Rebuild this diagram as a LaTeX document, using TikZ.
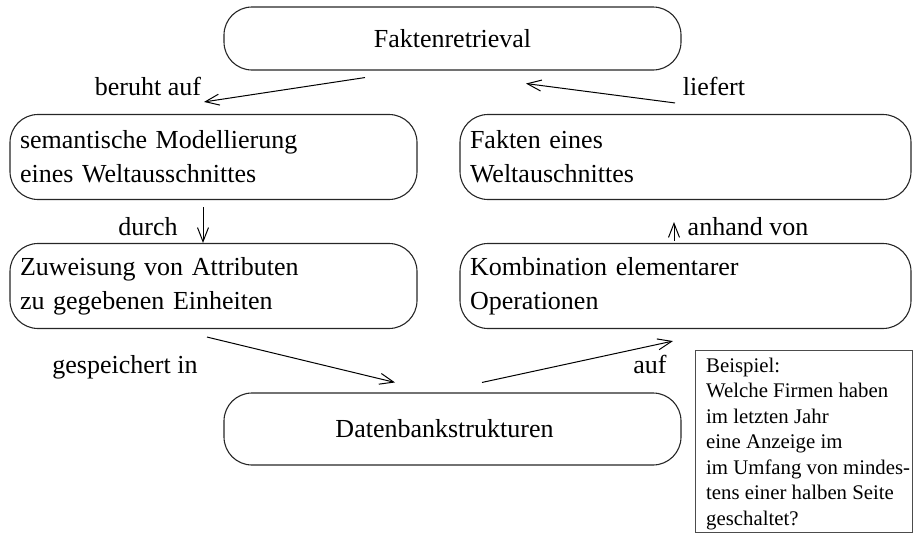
\documentclass[tikz,border=0pt]{standalone}
\usepackage{fontspec}
\setmainfont{Liberation Serif}
\usetikzlibrary{arrows.meta}
\begin{document}
\begin{tikzpicture}[x=1pt,y=-1pt,
  every node/.style={font=\fontsize{26}{34}\selectfont},
  stage/.style={draw=black!85, line width=1.1pt, rounded corners=28pt, inner xsep=10pt, inner ysep=0pt},
  wide/.style={stage, minimum width=457pt},
  leftbox/.style={stage, minimum width=407pt, minimum height=85pt, text width=387pt, align=left},
  rightbox/.style={stage, minimum width=451pt, minimum height=85pt, text width=431pt, align=left},
  link/.style={-{Straight Barb[length=14pt,width=11pt]}, line width=1pt},
  tag/.style={anchor=base, inner sep=0pt},
  exframe/.style={draw=black!70, line width=1.1pt, inner sep=0pt, minimum width=217pt, minimum height=182pt},
  extext/.style={inner sep=0pt, align=left, font=\fontsize{20.8}{25.5}\selectfont}
]
\useasboundingbox (0,0) rectangle (913,533);

% stages of the chain
\node[wide, minimum height=63pt] (top) at (452.5,38.5) {Faktenretrieval};
\node[leftbox]  (sem) at (213.5,157) {semantische Modellierung\\eines Weltausschnittes};
\node[rightbox] (fak) at (685.5,157) {Fakten eines\\Weltauschnittes};
\node[leftbox]  (zuw) at (213.5,286) {Zuweisung von Attributen\\zu gegebenen Einheiten};
\node[rightbox] (kom) at (685.5,286) {Kombination elementarer\\Operationen};
\node[wide, minimum height=72pt] (db) at (452.5,429) {\hspace*{-16pt}Datenbankstrukturen};

% example query
\node[exframe, anchor=north west] (ex) at (695,350) {};
\node[extext, anchor=west] (extxt) at ([xshift=11pt,yshift=-2pt]ex.west)
  {Beispiel:\\Welche Firmen haben\\im letzten Jahr\\eine Anzeige im\\im Umfang von mindes-\\tens einer halben Seite\\geschaltet?};

% connectors
\draw[link] ([xshift=-87.5pt,yshift=-7pt]top.south) -- ([xshift=-9.5pt,yshift=12pt]sem.north);
\draw[link] ([xshift=-10.5pt,yshift=11pt]fak.north) -- ([xshift=73.5pt,yshift=-13pt]top.south);
\draw[link] ([xshift=-10.5pt,yshift=-7pt]sem.south) -- ([xshift=-10.5pt]zuw.north);
\draw[link] ([xshift=-11.5pt,yshift=2pt]kom.north) -- ([xshift=-11.5pt,yshift=-22pt]fak.south);
\draw[link] ([xshift=-6.5pt,yshift=-8pt]zuw.south) -- ([xshift=-57.5pt,yshift=10pt]db.north);
\draw[link] ([xshift=29.5pt,yshift=10pt]db.north) -- ([xshift=-12.5pt,yshift=-12pt]kom.south);

% connector labels
\node[tag] (l1) at (148,95) {beruht auf};
\node[tag] (l2) at (714,95) {liefert};
\node[tag] (l3) at (148,235) {durch};
\node[tag] (l4) at (748,235) {anhand von};
\node[tag] (l5) at (125,373) {gespeichert in};
\node[tag] (l6) at (650,373) {auf};
\end{tikzpicture}
\end{document}
